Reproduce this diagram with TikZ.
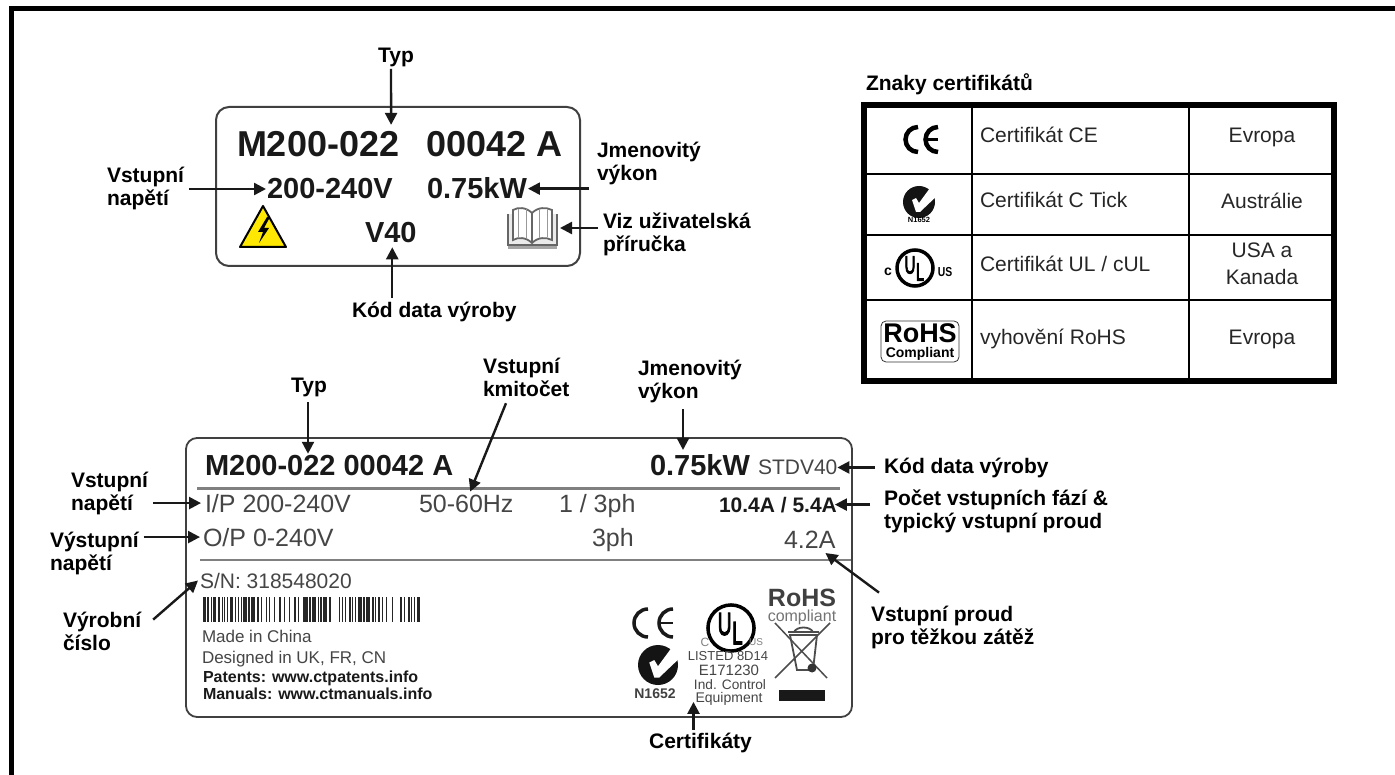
\documentclass[tikz,border=0pt]{standalone}
\usepackage{fontspec}
\setmainfont{Liberation Sans}
\newfontfamily\ulfont{Liberation Sans}[FakeBold=4]
\usetikzlibrary{arrows.meta}
\newcommand{\fsz}[1]{\fontsize{#1pt}{#1pt}\selectfont}
\definecolor{plategrey}{gray}{.25}
\definecolor{printgrey}{gray}{.27}
\tikzset{
  every node/.style={inner sep=0pt,outer sep=0pt},
  ptr/.style={line width=2.4pt,black!90,-{Triangle[length=12pt,width=12pt]}},
  lbl/.style={font=\bfseries\fontsize{21pt}{23pt}\selectfont,align=left,anchor=base west},
  cell/.style={font=\fsz{21},text=black!85,anchor=base west},
  cellc/.style={font=\fsz{21},text=black!85,anchor=base},
  plate/.style={draw=plategrey,line width=2pt,rounded corners=13pt},
  bigbold/.style={font=\bfseries\fsz{#1},text=black!90,anchor=base west},
  printed/.style={font=\fsz{#1},text=printgrey,anchor=base west},
  tickmark/.pic={
    \fill[black!92] (0,0) circle (16);
    \fill[white] (-7,-2) -- (-3,-4) -- (0,1) -- (11,-14) -- (21,-14) -- (21,-9) -- (1,10) -- (-3,10) -- cycle;
  },
  ulmark/.pic={
    \draw[line width=3.5pt,black] (0,0) circle (18);
    \node[font=\ulfont\fsz{25},xscale=.6,transform shape] (-u) at (-5,-3) {U};
    \node[font=\ulfont\fsz{25},xscale=.6,transform shape] (-l) at (5,4) {L};
  }
}
\begin{document}
\begin{tikzpicture}[x=1pt,y=-1pt]
  \useasboundingbox (0,0) rectangle (1395,775);
  \draw[line width=5pt] (11.5,775) -- (11.5,8.5) -- (1395,8.5);

  \draw[plate] (216,107) rectangle (580,266);
  \node[bigbold=36] (modelA1) at (237,157) {M200-022};
  \node[bigbold=36] (modelA2) at (426,157) {00042 A};
  \node[bigbold=29] (rateA1) at (267,199) {200-240V};
  \node[bigbold=29] (rateA2) at (427,199) {0.75kW};
  \node[bigbold=29] (dateA) at (365,243) {V40};
  \node[lbl,anchor=base] (typA) at (396,63) {Typ};
  \node[lbl] (vstupA) at (107,206) {Vstupní\\napětí};
  \node[lbl] (jmenA) at (597,181) {Jmenovitý\\výkon};
  \node[lbl] (vizA) at (603,252) {Viz uživatelská\\příručka};
  \node[lbl] (kodA) at (352,318) {Kód data výroby};
  \node[minimum width=50pt,minimum height=42pt] (bookA) at (533,228) {};
  \draw[line width=2pt,black,line join=round,fill=yellow!90!orange] (240,247) -- (263,206) -- (286,247) -- cycle;
  \fill[black] (267,217) -- (258,232) -- (263,232) -- (259,243) -- (269,228) -- (264,228) -- (270,217) -- cycle;
  \fill[black!35] (508,240) rectangle (557,249);
  \draw[black!60,line width=1.8pt,fill=black!8] (508,214) -- (508,245) -- (557,245) -- (557,214);
  \draw[black!60,line width=1.8pt,fill=white] (532,213) .. controls (526,207) and (518,207) .. (513,210) -- (513,240) .. controls (518,237) and (526,237) .. (532,243) .. controls (538,237) and (546,237) .. (552,240) -- (552,210) .. controls (546,207) and (538,207) .. (532,213) -- (532,243);
  \draw[black!40,line width=1pt] (518,209) -- (518,237) (526,209) -- (526,238) (539,209) -- (539,238) (547,209) -- (547,237);
  \draw[ptr] ([xshift=-5pt,yshift=-1.5pt]typA.south) -- ([xshift=-8pt,yshift=7pt]modelA1.north east);
  \draw[ptr] ([xshift=5pt]vstupA.east |- rateA1.west) -- ([xshift=-1pt]rateA1.west);
  \draw[ptr] ([xshift=-8pt]jmenA.west |- rateA2.east) -- ([xshift=1pt]rateA2.east);
  \draw[ptr] ([xshift=-5pt]vizA.west |- bookA.east) -- ([xshift=2pt]bookA.east);
  \draw[ptr] ([xshift=-42pt,yshift=5pt]kodA.north) -- ([xshift=-42pt,yshift=-4pt]kodA.north |- dateA.south);

  \node[lbl] (certHead) at (866,91) {Znaky certifikátů};
  \draw[line width=6pt] (864,105) rectangle (1334,381);
  \draw[line width=2.5pt] (972,105) -- (972,381) (1189,105) -- (1189,381);
  \draw[line width=2.5pt] (864,174) -- (1334,174) (864,235) -- (1334,235) (864,300) -- (1334,300);
  \node[cell] (ceText) at (980,143) {Certifikát CE};
  \node[cell] (tickText) at (980,208) {Certifikát C Tick};
  \node[cell] (ulText) at (980,272) {Certifikát UL / cUL};
  \node[cell] (rohsText) at (980,345) {vyhovění RoHS};
  \node[cellc] (ceZone) at (1262,143) {Evropa};
  \node[cellc] (tickZone) at (1262,209) {Austrálie};
  \node[cellc,align=center,font=\fontsize{21pt}{27pt}\selectfont] (ulZone) at (1262,285) {USA a\\Kanada};
  \node[cellc] (rohsZone) at (1262,345) {Evropa};
  \draw[line width=4.5pt] (918,127) arc[start angle=90,end angle=270,radius=12.5pt];
  \draw[line width=4.5pt] (938,127) arc[start angle=90,end angle=270,radius=12.5pt];
  \draw[line width=3pt] (927,139.5) -- (938,139.5);
  \pic at (919,202) {tickmark};
  \node[font=\bfseries\fsz{7.5}] (tickCode) at (919,220) {N1652};
  \pic (ulTable) at (915,268) {ulmark};
  \node[font=\bfseries\fsz{14}] (ulC) at (888,272) {c};
  \node[font=\bfseries\fsz{13},xscale=.8,transform shape] (ulUS) at (945,272) {US};
  \draw[black!80,line width=.8pt,rounded corners=5pt] (881,321) rectangle (959,362);
  \node[font=\bfseries\fsz{27},anchor=base] (rohsBig) at (920,342.5) {RoHS};
  \node[font=\bfseries\fsz{14},anchor=base] (rohsSmall) at (920,357.5) {Compliant};

  \draw[plate,line width=1.8pt,rounded corners=11pt] (186,438) rectangle (852,717);
  \draw[black!50,line width=3pt] (197,488) -- (840,488);
  \draw[black!50,line width=2pt] (200,560) -- (851,560);
  \node[bigbold=29] (modelB) at (205,475) {M200-022 00042 A};
  \node[bigbold=29] (rateB) at (650,475) {0.75kW};
  \node[printed=21] (dateB) at (758,474) {STDV40};
  \node[printed=25] (ipB) at (205,512) {I/P 200-240V};
  \node[printed=25] (hzB) at (419,512) {50-60Hz};
  \node[printed=25] (phInB) at (559,512) {1 / 3ph};
  \node[bigbold=21] (ampInB) at (719,512) {10.4A / 5.4A};
  \node[printed=25] (opB) at (203,546) {O/P 0-240V};
  \node[printed=25] (phOutB) at (592,546) {3ph};
  \node[printed=25] (ampOutB) at (784,548) {4.2A};
  \node[printed=21] (snB) at (200,588) {S/N: 318548020};
  \foreach \bx/\bw in {203/2.5,207/1.5,211/1,213/3,218/1.5,222/1,224/1,227/1,230/2.5,235/1,238/1,241/1,243/4,248/1.5,251/4,257/1.5,261/1,266/1,269/1,274/1,279/1.5,284/1,289/1,294/1.5,298/1,303/4.5,309/1.5,312/4,318/1,320/1.5,323/4,329/2,339/1,342/1,345/1,349/1.5,352/1,355/1,358/3.5,363/1.5,366/4,372/1.5,375/1,378/1.5,382/1,386/1,392/1,400/1.5,404/1,408/1.5,411/1,414/1,417/3} {
    \fill[black!85] (\bx,597) rectangle ++(\bw,25);
  }
  \node[printed=17] (madeB) at (202,642) {Made in China};
  \node[printed=17] (designB) at (202,663) {Designed in UK, FR, CN};
  \node[bigbold=16] (patB) at (203,682) {Patents: www.ctpatents.info};
  \node[bigbold=16] (manB) at (203,699) {Manuals: www.ctmanuals.info};
  \draw[line width=3.5pt,black!90] (648,609) arc[start angle=90,end angle=270,radius=14pt];
  \draw[line width=3.5pt,black!90] (673,609) arc[start angle=90,end angle=270,radius=14pt];
  \draw[line width=2.5pt,black!90] (658,623) -- (673,623);
  \pic[scale=1.25] at (658,665) {tickmark};
  \node[font=\bfseries\fsz{14},text=plategrey] (tickCodeB) at (655,694) {N1652};
  \pic[scale=1.28] (ulPlate) at (731,628) {ulmark};
  \node[font=\fsz{12},text=black!50] (ulCB) at (705,642) {C};
  \node[font=\fsz{10},text=black!50] (ulUSB) at (756,642) {US};
  \node[printed=13,anchor=base] (listB) at (728,660) {LISTED 8D14};
  \node[printed=15,anchor=base] (eNumB) at (729,675) {E171230};
  \node[printed=13.7,anchor=base] (indB) at (730,689) {Ind. Control};
  \node[printed=14,anchor=base] (equipB) at (729,702) {Equipment};
  \node[bigbold=25,text=black!75,anchor=base] (rohsB) at (802,606) {RoHS};
  \node[printed=16,anchor=base,text=black!55] (compB) at (802,621) {compliant};
  \draw[black!70,line width=1.5pt] (775,623) -- (827,678) (830,623) -- (775,678);
  \draw[black!70,line width=1.8pt] (790,635) -- (797,670) -- (813,670) -- (817,635) -- cycle;
  \draw[black!70,line width=1.8pt] (788,632) -- (819,632) (794,632) .. controls (797,626) and (810,626) .. (813,632);
  \fill[black!80] (812,668) circle (4.5);
  \fill[black!90] (779,690) rectangle (825,701);

  \node[lbl,anchor=base] (typB) at (309,392) {Typ};
  \node[lbl] (kmitB) at (483,397) {Vstupní\\kmitočet};
  \node[lbl] (jmenB) at (638,399) {Jmenovitý\\výkon};
  \node[lbl] (vstupB) at (71,510) {Vstupní\\napětí};
  \node[lbl] (vystB) at (50,570) {Výstupní\\napětí};
  \node[lbl] (vyrB) at (63,650) {Výrobní\\číslo};
  \node[lbl] (kodB) at (884,473) {Kód data výroby};
  \node[lbl] (pocetB) at (884,528) {Počet vstupních fází \&\\typický vstupní proud};
  \node[lbl] (proudB) at (871,644) {Vstupní proud\\pro těžkou zátěž};
  \node[lbl,anchor=base] (certB) at (700.5,748) {Certifikáty};
  \draw[ptr] ([xshift=-1pt,yshift=-6pt]typB.south) -- ([xshift=-1pt,yshift=1pt]typB.south |- modelB.north);
  \draw[ptr] ([xshift=23pt,yshift=-6pt]kmitB.south west) -- ([xshift=4pt,yshift=3pt]hzB.north);
  \draw[ptr] ([xshift=45pt,yshift=-6pt]jmenB.south west) -- ([xshift=45pt,yshift=4pt]jmenB.south west |- rateB.north);
  \draw[ptr] ([xshift=-9pt]kodB.west) -- (dateB.east |- kodB.west);
  \draw[ptr] ([xshift=-14pt]pocetB.west |- ampInB.east) -- ([xshift=-2pt]ampInB.east);
  \draw[ptr] ([xshift=8pt,yshift=13pt]proudB.north west) -- ([xshift=-10pt,yshift=-5pt]ampOutB.south east);
  \draw[ptr] ([xshift=5pt]vstupB.east |- ipB.west) -- ([xshift=-4pt]ipB.west);
  \draw[ptr] ([xshift=5pt]vystB.east |- opB.west) -- ([xshift=-3pt]opB.west);
  \draw[ptr] ([xshift=12pt,yshift=-8pt]vyrB.north east) -- ([xshift=-2pt]snB.west);
  \draw[ptr] ([xshift=-7pt,yshift=3pt]certB.north) -- ([xshift=-7pt,yshift=3pt]certB.north |- equipB.south);
\end{tikzpicture}
\end{document}
